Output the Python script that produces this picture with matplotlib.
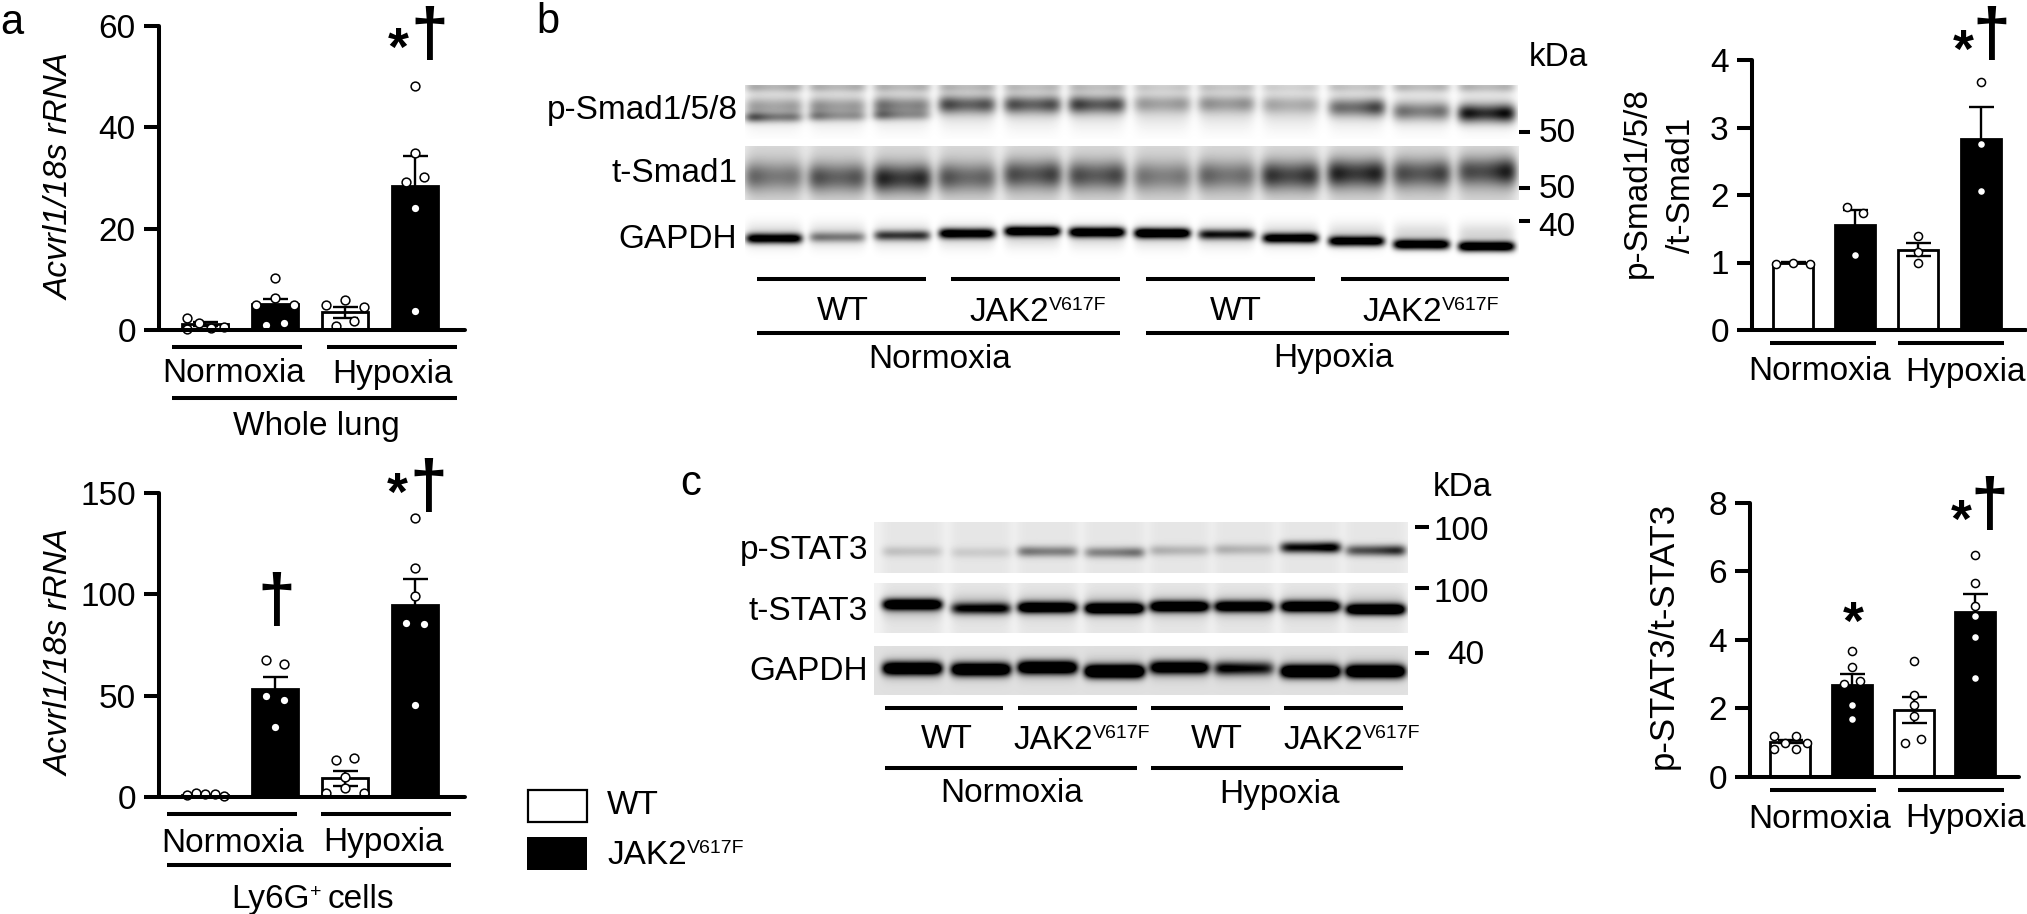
import matplotlib
matplotlib.use("Agg")
import matplotlib.pyplot as plt
from matplotlib.font_manager import FontProperties
from matplotlib.textpath import TextPath
import numpy as np

W, H = 2027, 914
plt.rcParams["font.family"] = ["Liberation Sans", "DejaVu Sans"]
plt.rcParams["font.size"] = 24

FS = 24
SUP = 14

# ---- bar data: means, sem, single points and their offset inside a bar ----
bar_colors = ["white", "black", "white", "black"]

lung_means = [1.2, 5.1, 3.5, 28.5]
lung_sem = [0.4, 1.1, 1.1, 5.9]
lung_points = [
    [2.3, 1.3, 0.3, 0.5, 0.15],
    [10.3, 6.25, 4.9, 4.9, 1.0, 1.45],
    [5.85, 4.9, 4.5, 1.8, 0.8],
    [48.2, 35.0, 30.1, 29.3, 24.0, 3.75],
]
lung_offs = [
    [-0.26, -0.09, 0.09, 0.27, -0.26],
    [0, 0, -0.27, 0.27, -0.13, 0.13],
    [0, -0.27, 0.27, 0.13, -0.13],
    [0, 0, 0.13, -0.13, 0, 0],
]
lung_ticks = [0, 20, 40, 60]

ly6g_means = [1.0, 53.4, 9.2, 94.6]
ly6g_sem = [0.2, 5.7, 3.6, 12.7]
ly6g_points = [
    [1.0, 2.1, 1.3, 1.5, 0.7],
    [67.5, 65.5, 50.0, 47.8, 34.3],
    [18.2, 19.0, 10.0, 4.3, 2.1, 2.1],
    [137.3, 113.0, 99.0, 86.0, 85.3, 45.2],
]
ly6g_offs = [
    [-0.26, -0.13, 0, 0.14, 0.27],
    [-0.13, 0.13, -0.13, 0.13, 0],
    [-0.13, 0.13, 0, 0, -0.27, 0.27],
    [0, 0, 0, -0.13, 0.13, 0],
]
ly6g_ticks = [0, 50, 100, 150]

smad_means = [1.0, 1.56, 1.19, 2.83]
smad_sem = [0.01, 0.22, 0.1, 0.47]
smad_points = [
    [0.98, 0.99, 0.98],
    [1.82, 1.73, 1.11],
    [1.39, 1.15, 1.0],
    [3.68, 2.75, 2.06],
]
smad_offs = [[-0.27, 0, 0.27], [-0.13, 0.13, 0], [0, 0, 0], [0, 0, 0]]
smad_ticks = [0, 1, 2, 3, 4]

stat_means = [1.02, 2.68, 1.95, 4.81]
stat_sem = [0.05, 0.32, 0.37, 0.51]
stat_points = [
    [1.19, 0.98, 1.19, 0.99, 0.8, 0.8],
    [3.68, 3.19, 2.78, 2.7, 2.08, 1.68],
    [3.38, 2.38, 2.08, 1.78, 1.09, 0.99],
    [6.47, 5.67, 4.98, 4.69, 4.08, 2.88],
]
stat_offs = [
    [-0.265, -0.09, 0.09, 0.265, -0.265, 0.09],
    [0, 0, 0.125, -0.135, 0, 0],
    [0, 0, 0, 0, 0.125, -0.13],
    [0, 0, 0, 0, 0, 0],
]
stat_ticks = [0, 2, 4, 6, 8]

# ---- blot data: band row and (left, right) darkness for each lane ----
b_lanes = [773.7, 837, 901.7, 966.6, 1032, 1096.6, 1162, 1226, 1290, 1356, 1421, 1486]
c_lanes = [912, 980.5, 1047, 1114, 1179, 1243.5, 1310, 1375]

psmad_top_y = [86] * 12
psmad_top = [(0.42, 0.42), (0.4, 0.4), (0.38, 0.38), (0.36, 0.36), (0.33, 0.33), (0.33, 0.33),
             (0.25, 0.25), (0.28, 0.28), (0.22, 0.22), (0.3, 0.3), (0.36, 0.36), (0.38, 0.38)]
psmad_main_y = [106, 106, 105, 104, 104, 104, 103, 103, 104, 107, 111, 113]
psmad_main = [(0.35, 0.35), (0.45, 0.35), (0.65, 0.45), (0.85, 0.75), (0.8, 0.8), (0.9, 0.8),
              (0.38, 0.38), (0.43, 0.43), (0.32, 0.28), (0.55, 0.9), (0.6, 0.6), (1.1, 1.2)]
psmad_low_y = [117, 116, 115, 0, 0, 0, 0, 0, 0, 0, 0, 0]
psmad_low = [(0.8, 0.45), (0.5, 0.3), (0.55, 0.25), (0, 0), (0, 0), (0, 0),
             (0, 0), (0, 0), (0, 0), (0, 0), (0, 0), (0, 0)]

tsmad_y = [176, 177, 178, 177, 174, 175, 176, 175, 175, 173, 173, 171]
tsmad = [(0.55, 0.4), (0.65, 0.6), (0.9, 0.85), (0.65, 0.5), (0.65, 0.75), (0.65, 0.7),
         (0.45, 0.4), (0.55, 0.45), (0.8, 0.8), (0.9, 0.9), (0.65, 0.75), (0.6, 1.0)]

gapdh_b_y = [238, 236.7, 235, 233, 230.7, 231.7, 232.7, 234, 237.7, 240.7, 244, 246]
gapdh_b = [(1.2, 1.2), (0.45, 0.4), (0.7, 0.75), (1.3, 1.2), (1.4, 1.4), (1.4, 1.4),
           (1.5, 1.4), (0.9, 0.9), (1.2, 1.3), (1.3, 1.3), (1.4, 1.4), (1.5, 1.5)]

pstat_y = [551, 552, 551, 552, 550, 549, 547, 550]
pstat = [(0.17, 0.15), (0.12, 0.12), (0.5, 0.45), (0.4, 0.55), (0.25, 0.2), (0.25, 0.2),
         (0.95, 1.2), (0.6, 0.9)]
tstat_y = [604, 608, 607, 608, 606, 606, 606, 609]
tstat = [(1.3, 1.3), (0.8, 0.9), (1.3, 1.2), (1.4, 1.4), (1.3, 1.3), (1.2, 1.2), (1.3, 1.3), (1.3, 1.4)]
gapdh_c_y = [668, 669, 667, 671, 667, 668, 671, 671]
gapdh_c = [(1.4, 1.4), (1.4, 1.4), (1.4, 1.4), (1.6, 1.7), (1.2, 1.2), (0.9, 0.7), (1.5, 1.5), (1.5, 1.5)]

fig = plt.figure(figsize=(W / 100, H / 100), dpi=100, facecolor="white")

# overlay in pixel coordinates for labels, lines and blots
bg = fig.add_axes([0, 0, 1, 1])
bg.set_axis_off()
renderer = fig.canvas.get_renderer()


def txt(x, y, s, **kw):
    kw.setdefault("fontsize", FS)
    kw.setdefault("ha", "center")
    kw.setdefault("va", "center")
    kw.setdefault("color", "black")
    if "rotation" not in kw:
        y = y + 3
    return bg.text(x, y, s, **kw)


def runs(x, y, parts, ha="center"):
    # text with raised small pieces, parts = [(string, is_sup, gap)]
    widths = []
    for s, sup, gap in parts:
        t = bg.text(0, 0, s, fontsize=SUP if sup else FS)
        widths.append(t.get_window_extent(renderer).width + gap)
        t.remove()
    cur = x - sum(widths) / 2 if ha == "center" else x
    for (s, sup, gap), w in zip(parts, widths):
        bg.text(cur + gap, y + (-11 if sup else 0) + 13,
                s, fontsize=SUP if sup else FS, ha="left", va="baseline", color="black")
        cur += w


def hline(x0, x1, y, lw=2.9):
    bg.plot([x0, x1], [y, y], color="black", lw=lw, solid_capstyle="butt")


def mark(x, y, s, height):
    # significance sign, scaled and centred on its outline
    prop = FontProperties(family="Liberation Sans", weight="bold")
    box = TextPath((0, 0), s, size=100, prop=prop).get_extents()
    size = 100 * height / (box.height * 100 / 72)
    px = size / 100 * 100 / 72
    bg.text(x - (box.x0 + box.x1) / 2 * px, y + (box.y0 + box.y1) / 2 * px, s, fontsize=size,
            fontweight="bold", ha="left", va="baseline", color="black", zorder=6)


def make_blot(box, lanes, hw, bands, back=0.0, lane_back=0.0, haze=None, waist=0.0, power=6):
    x0, x1, y0, y1 = box
    xs = np.arange(x0, x1)
    ys = np.arange(y0, y1)
    dark = np.full((len(ys), len(xs)), float(back))
    for i, c in enumerate(lanes):
        u = (xs - c) / hw
        mask = np.exp(-np.abs(u) ** power)
        dark += lane_back * mask[None, :]
        if haze is not None:
            hy, hs, hd = haze
            dark += hd * mask[None, :] * np.exp(-(((ys - hy) / hs) ** 2))[:, None]
        for rows, vals, sig in bands:
            if rows[i] == 0:
                continue
            left, right = vals[i]
            t = np.clip((u + 1) / 2, 0, 1)
            amp = (left * (1 - t) + right * t) * (1 - waist * np.clip(1 - u ** 2, 0, 1))
            dark += (amp * mask)[None, :] * np.exp(-(((ys - rows[i]) / sig) ** 2))[:, None]
    bg.imshow(1 - np.clip(dark, 0, 1), cmap="gray", vmin=0, vmax=1, aspect="auto",
              extent=(x0, x1, y1, y0), interpolation="bilinear", zorder=1)


# blots, panel b
make_blot((745, 1518, 85, 139), b_lanes, 28,
          [(psmad_top_y, psmad_top, 6), (psmad_main_y, psmad_main, 9), (psmad_low_y, psmad_low, 5)],
          haze=(108, 19, 0.14), waist=0.4)
make_blot((745, 1519, 146, 200), b_lanes, 29, [(tsmad_y, tsmad, 14)],
          back=0.06, lane_back=0.08, haze=(176, 24, 0.1), waist=0.4)
make_blot((745, 1519, 205, 265), b_lanes, 28, [(gapdh_b_y, gapdh_b, 5)],
          haze=(235, 12, 0.16), waist=0.12, power=8)

# blots, panel c
make_blot((874, 1408, 522, 573), c_lanes, 30, [(pstat_y, pstat, 5.5)],
          back=0.06, lane_back=0.04, waist=0.15, power=8)
make_blot((874, 1408, 583, 633), c_lanes, 30, [(tstat_y, tstat, 5.5)],
          back=0.05, lane_back=0.05, haze=(606, 11, 0.2), waist=0.05, power=8)
make_blot((874, 1408, 646, 695), c_lanes, 30, [(gapdh_c_y, gapdh_c, 6.5)],
          back=0.12, haze=(668, 12, 0.15), waist=0.05, power=8)

# panel letters
txt(12, 20, "a", fontsize=30)
txt(548, 19, "b", fontsize=30)
txt(690.5, 481, "c", fontsize=30)

# panel a lines and labels
hline(172.3, 302.3, 347.3)
hline(327, 456.7, 347.3)
hline(172.3, 456.7, 397.7)
txt(233.5, 371, "Normoxia")
txt(392.7, 371, "Hypoxia")
txt(316.7, 423, "Whole lung")
hline(166.7, 296.7, 814.3)
hline(321.3, 451, 814.3)
hline(166.7, 451, 865.3)
txt(232.3, 840, "Normoxia")
txt(383.3, 840, "Hypoxia")
runs(312.7, 895, [("Ly6G", False, 0), ("+", True, 0), ("cells", False, 6)])

# panel b lines and labels
for x0, x1 in [(757, 925.5), (951.4, 1120), (1145.7, 1315), (1340.7, 1509)]:
    hline(x0, x1, 279)
hline(757, 1120, 333)
hline(1145.7, 1509, 333)
txt(842.7, 308, "WT")
runs(1037.7, 308, [("JAK2", False, 0), ("V617F", True, 0)])
txt(1235.5, 308, "WT")
runs(1430.6, 308, [("JAK2", False, 0), ("V617F", True, 0)])
txt(939.5, 356, "Normoxia")
txt(1333.7, 356, "Hypoxia")
txt(737.5, 108, "p-Smad1/5/8", ha="right")
txt(737.5, 170, "t-Smad1", ha="right")
txt(737.5, 236, "GAPDH", ha="right")
txt(1558, 55, "kDa")
for y, s, ytick in [(131, "50", 131.7), (186, "50", 187.7), (224, "40", 221)]:
    txt(1557, y, s)
    hline(1519, 1530, ytick)

# panel c lines and labels
for x0, x1 in [(885.4, 1003), (1018, 1136.6), (1151, 1269.5), (1284, 1403)]:
    hline(x0, x1, 708)
hline(885.4, 1136.6, 767.7)
hline(1151, 1403, 767.7)
txt(947, 736, "WT")
runs(1082, 736, [("JAK2", False, 0), ("V617F", True, 0)])
txt(1217, 736, "WT")
runs(1352, 736, [("JAK2", False, 0), ("V617F", True, 0)])
txt(1011.4, 791, "Normoxia")
txt(1280, 791, "Hypoxia")
txt(868, 547, "p-STAT3", ha="right")
txt(868, 609, "t-STAT3", ha="right")
txt(868, 669, "GAPDH", ha="right")
txt(1462.6, 484, "kDa")
for y, s, ytick, x in [(529, "100", 526.7, 1461), (590, "100", 587.7, 1461), (653, "40", 652.7, 1465.5)]:
    txt(x, y, s)
    hline(1415, 1429, ytick)

# legend
bg.add_patch(plt.Rectangle((527.5, 789.5), 59, 32, fc="white", ec="black", lw=1.6, zorder=2))
bg.add_patch(plt.Rectangle((526.5, 836.5), 60.5, 33.5, fc="black", ec="black", lw=0, zorder=2))
txt(607, 803, "WT", ha="left")
runs(607, 851, [("JAK2", False, 0), ("V617F", True, 0)], ha="left")

# right panels, lines and labels
hline(1770, 1876, 343.3)
hline(1897.7, 2004, 343.3)
txt(1819.3, 369, "Normoxia")
txt(1965, 369, "Hypoxia")
hline(1770, 1876, 790.3)
hline(1897.7, 2004, 790.3)
txt(1819.3, 816, "Normoxia")
txt(1965, 816, "Hypoxia")
txt(1637, 183, "p-Smad1/5/8", rotation=90)
txt(1681, 185, "/t-Smad1", rotation=90)
txt(1663, 635, "p-STAT3/t-STAT3", rotation=90, fontsize=25)
txt(60, 177, "Acvrl1/18s rRNA", rotation=90, fontstyle="italic")
txt(60, 652, "Acvrl1/18s rRNA", rotation=90, fontstyle="italic")

# significance marks
for x, y in [(398, 38), (397, 483), (1963, 40), (1853, 611.7), (1961, 510)]:
    mark(x, y, "*", 20)
for x, y in [(429, 34), (428, 486), (276, 599.5), (1991, 33.7), (1989, 503.7)]:
    mark(x, y, "\u2020", 54)

bg.set_xlim(0, W)
bg.set_ylim(H, 0)


def bar_panel(box, c0, step, bar_w, ymax, ticks, means, sem, points, offs, dot=40):
    x0, x1, top, bottom = box
    ax = fig.add_axes([x0 / W, 1 - bottom / H, (x1 - x0) / W, (bottom - top) / H])
    ax.patch.set_alpha(0)
    ax.set_xlim((x0 - c0) / step, (x1 - c0) / step)
    ax.set_ylim(0, ymax)
    xpos = np.arange(len(means))
    ax.bar(xpos, means, width=bar_w / step, color=bar_colors, edgecolor="black", linewidth=2, zorder=2)
    ax.errorbar(xpos, means, yerr=sem, fmt="none", ecolor="black", elinewidth=1.7,
                capsize=9, capthick=1.7, zorder=3, clip_on=False)
    for i, vals in enumerate(points):
        ax.scatter(i + np.array(offs[i]), vals, s=dot, c="white", edgecolors="black",
                   linewidths=1.1, zorder=4, clip_on=False)
    for side in ["top", "right"]:
        ax.spines[side].set_visible(False)
    for side in ["left", "bottom"]:
        ax.spines[side].set_linewidth(2.9)
        ax.spines[side].set_capstyle("round")
        ax.spines[side].set_zorder(5)
    ax.set_xticks([])
    ax.set_yticks(ticks)
    ax.tick_params(axis="y", length=10.5, width=2.9, pad=6, labelsize=FS)
    return ax


bar_panel((158.7, 465, 26, 330), 205, 70, 46, 60, lung_ticks, lung_means, lung_sem, lung_points, lung_offs)
bar_panel((158.7, 465, 492.7, 797), 205, 70, 46, 150, ly6g_ticks, ly6g_means, ly6g_sem, ly6g_points, ly6g_offs)
bar_panel((1751.7, 2026, 60, 330), 1792.7, 62.6, 40, 4, smad_ticks, smad_means, smad_sem, smad_points, smad_offs, dot=34)
bar_panel((1749.7, 2019, 502.7, 776.7), 1790.3, 61.6, 40, 8, stat_ticks, stat_means, stat_sem, stat_points, stat_offs, dot=34)

fig.savefig("out.png", dpi=100)
